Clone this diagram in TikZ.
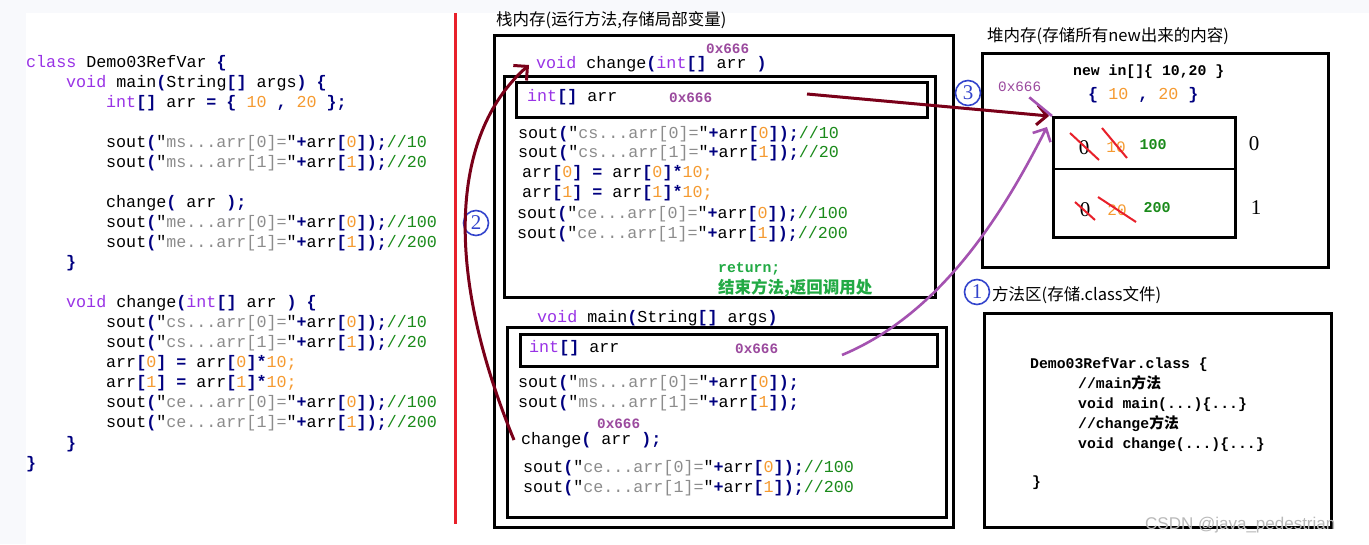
\documentclass[tikz,border=0pt]{standalone}
\usepackage{fontspec}
\setmainfont{Liberation Serif}
\setmonofont{Liberation Mono}
\setsansfont{Liberation Sans}
\newfontfamily\cjk{Noto Sans CJK SC}
\usetikzlibrary{arrows.meta}
\definecolor{kw}{HTML}{9933E6}
\definecolor{nvy}{HTML}{000080}
\definecolor{org}{HTML}{F59A30}
\definecolor{gry}{HTML}{8C8C8C}
\definecolor{grn}{HTML}{1A8A1A}
\definecolor{addrc}{HTML}{9B4A9E}
\definecolor{darkred}{HTML}{7A0019}
\definecolor{parr}{HTML}{A452B0}
\definecolor{lgreen}{HTML}{22AA44}
\definecolor{cblue}{HTML}{3344CC}
\definecolor{redl}{HTML}{E8202A}
\definecolor{bgc}{HTML}{F8F9FC}
\newcommand{\kwd}[1]{\textcolor{kw}{#1}}
\newcommand{\nvy}[1]{\textcolor{nvy}{\bfseries #1}}
\newcommand{\cnum}[1]{\textcolor{org}{#1}}
\newcommand{\cstr}[1]{\textcolor{gry}{#1}}
\newcommand{\cmt}[1]{\textcolor{grn}{#1}}
\newcommand{\soutln}[3]{sout\nvy{(}"\cstr{#1...arr[#2]=}"\nvy{+}arr\nvy{[}\cnum{#2}\nvy{]);}\cmt{#3}}
\newcommand{\arrln}[1]{arr\nvy{[}\cnum{#1}\nvy{]} \nvy{=} arr\nvy{[}\cnum{#1}\nvy{]*}\cnum{10;}}
\tikzset{
  code/.style={anchor=base west, inner sep=0pt, font=\ttfamily\fontsize{16.7}{20}\selectfont},
  bcode/.style={anchor=base west, inner sep=0pt, font=\ttfamily\bfseries\fontsize{14.8}{18}\selectfont},
  addr/.style={anchor=base west, inner sep=0pt, text=addrc, font=\ttfamily\bfseries\fontsize{14.3}{16}\selectfont},
  cjkt/.style={anchor=base west, inner sep=0pt, font=\cjk\fontsize{16.5}{18}\selectfont},
  frame/.style={draw=black, line width=3pt},
  circ/.style={circle, draw=cblue, line width=1.6pt, text=cblue, minimum size=25pt, inner sep=0pt, font=\rmfamily\fontsize{21}{21}\selectfont},
  darr/.style={draw=darkred, line width=3pt, -{Straight Barb[length=10pt,width=20pt]}},
  parrow/.style={draw=parr, line width=2.6pt, -{Straight Barb[length=10pt,width=20pt]}},
  cross/.style={draw=redl, line width=2pt},
  digit/.style={inner sep=0pt, font=\rmfamily\fontsize{21}{21}\selectfont},
}
\begin{document}
\begin{tikzpicture}[x=1pt,y=-1pt]
\useasboundingbox (0,0) rectangle (1369,544);
\fill[bgc] (0,0) rectangle (1369,544);
\fill[white] (26,13) rectangle (1369,544);
% left code
\node[code] (c1) at (26,67) {\kwd{class} Demo03RefVar \nvy{\{}};
\node[code] (c2) at (66,87) {\kwd{void} main\nvy{(}String\nvy{[]} args\nvy{)} \nvy{\{}};
\node[code] (c3) at (106,107) {\kwd{int}\nvy{[]} arr \nvy{=} \nvy{\{} \cnum{10} \nvy{,} \cnum{20} \nvy{\};}};
\node[code] (c4) at (106,147) {\soutln{ms}{0}{//10}};
\node[code] (c5) at (106,167) {\soutln{ms}{1}{//20}};
\node[code] (c6) at (106,207) {change\nvy{(} arr \nvy{);}};
\node[code] (c7) at (106,227) {\soutln{me}{0}{//100}};
\node[code] (c8) at (106,247) {\soutln{me}{1}{//200}};
\node[code] (c9) at (66,267) {\nvy{\}}};
\node[code] (c10) at (66,307) {\kwd{void} change\nvy{(}\kwd{int}\nvy{[]} arr \nvy{)} \nvy{\{}};
\node[code] (c11) at (106,327) {\soutln{cs}{0}{//10}};
\node[code] (c12) at (106,347) {\soutln{cs}{1}{//20}};
\node[code] (c13) at (106,367) {\arrln{0}};
\node[code] (c14) at (106,387) {\arrln{1}};
\node[code] (c15) at (106,407) {\soutln{ce}{0}{//100}};
\node[code] (c16) at (106,427) {\soutln{ce}{1}{//200}};
\node[code] (c17) at (66,448) {\nvy{\}}};
\node[code] (c18) at (26,468) {\nvy{\}}};
\draw[redl, line width=3pt] (455,13) -- (455,524);
% stack
\node[cjkt] (stt) at (496,25) {栈内存(运行方法,存储局部变量)};
\draw[frame] (494,35) rectangle (953,527);
\node[addr] (a1) at (706,53) {0x666};
\node[code] (chg) at (536,68) {\kwd{void} change\nvy{(}\kwd{int}\nvy{[]} arr \nvy{)}};
\draw[frame] (504,76) rectangle (935,297);
\draw[frame] (516,82) rectangle (927,117);
\node[code] (s1) at (527,101) {\kwd{int}\nvy{[]} arr};
\node[addr] (a2) at (669,102) {0x666};
\node[code] (s2) at (518,138) {\soutln{cs}{0}{//10}};
\node[code] (s3) at (518,157) {\soutln{cs}{1}{//20}};
\node[code] (s4) at (522,177) {\arrln{0}};
\node[code] (s5) at (522,197) {\arrln{1}};
\node[code] (s6) at (517,218) {\soutln{ce}{0}{//100}};
\node[code] (s7) at (517,238) {\soutln{ce}{1}{//200}};
\node[bcode, text=lgreen] (ret) at (718,272) {return;};
\node[cjkt, text=lgreen, font=\cjk\bfseries\fontsize{16.5}{18}\selectfont] (retc) at (718,293) {结束方法,返回调用处};
\node[code] (mn) at (537,322) {\kwd{void} main\nvy{(}String\nvy{[]} args\nvy{)}};
\draw[frame] (507,327) rectangle (946,517);
\draw[frame] (520,334) rectangle (937,366);
\node[code] (m1) at (529,352) {\kwd{int}\nvy{[]} arr};
\node[addr] (a3) at (735,353) {0x666};
\node[code] (m2) at (518,387) {\soutln{ms}{0}{}};
\node[code] (m3) at (518,407) {\soutln{ms}{1}{}};
\node[addr] (a4) at (597,428) {0x666};
\node[code] (call) at (521,444) {change\nvy{(} arr \nvy{);}};
\node[code] (m4) at (523,472) {\soutln{ce}{0}{//100}};
\node[code] (m5) at (523,492) {\soutln{ce}{1}{//200}};
% heap
\node[cjkt] (ht) at (987,41) {堆内存(存储所有new出来的内容)};
\draw[frame] (982,53) rectangle (1328,267);
\node[bcode] (h1) at (1073,75) {new in[]\{ 10,20 \}};
\node[code] (h2) at (1088,99) {\nvy{\{} \cnum{10} \nvy{,} \cnum{20} \nvy{\}}};
\node[addr, font=\ttfamily\fontsize{14.3}{16}\selectfont] (a5) at (998,91) {0x666};
\node[draw=black, line width=2.6pt, minimum width=182pt, minimum height=120pt, anchor=north west, inner sep=0pt] (cells) at (1052,116) {};
\draw[black, line width=2.6pt] (1052,169) -- (1234,169);
\node[digit] (d00) at (1084,148) {0};
\node[inner sep=0pt, text=org, font=\ttfamily\fontsize{16}{16}\selectfont] (d01) at (1116,147) {10};
\node[inner sep=0pt, text=grn, font=\ttfamily\bfseries\fontsize{15}{15}\selectfont] (d02) at (1153,145) {100};
\node[digit] (d10) at (1085,210) {0};
\node[inner sep=0pt, text=org, font=\ttfamily\fontsize{16}{16}\selectfont] (d11) at (1117,210) {20};
\node[inner sep=0pt, text=grn, font=\ttfamily\bfseries\fontsize{15}{15}\selectfont] (d12) at (1157,208) {200};
\draw[cross] (1070,133) -- (1099,160);
\draw[cross] (1102,128) -- (1127,158);
\draw[cross] (1075,202) -- (1095,220);
\draw[cross] (1098,197) -- (1136,222);
\node[digit] (i0) at (1254,144) {0};
\node[digit] (i1) at (1256,208) {1};
% method area
\node[circ] (n1) at (977,292) {1};
\node[cjkt] (mt) at (992,300) {方法区(存储.class文件)};
\draw[frame] (984,313) rectangle (1331,527);
\node[bcode] (t1) at (1030,368) {Demo03RefVar.class \{};
\node[bcode] (t2) at (1078,388) {//main{\cjk 方法}};
\node[bcode] (t3) at (1078,408) {void main(...)\{...\}};
\node[bcode] (t4) at (1078,428) {//change{\cjk 方法}};
\node[bcode] (t5) at (1078,448) {void change(...)\{...\}};
\node[bcode] (t6) at (1032,486) {\}};
% circled numbers
\node[circ] (n2) at (476,223) {2};
\node[circ] (n3) at (968,93) {3};
% arrows
\coordinate (p3s) at (807,94);
\coordinate (p3e) at (1049,116);
\draw[darr] (p3s) -- (p3e);
\coordinate (p2s) at (514,440);
\coordinate (p2e) at (529,65);
\draw[darr] (p2s) .. controls (440,260) and (455,130) .. (p2e);
\coordinate (p1s) at (842,355);
\coordinate (p1e) at (1047,127);
\draw[parrow] (p1s) .. controls (950,310) and (1012,195) .. (p1e);
\draw[parr, line width=2.6pt] (a5.south east) ++(-12,6) -- (cells.north west);
\node[anchor=west, inner sep=0pt, text=gray!55, font=\sffamily\fontsize{17}{17}\selectfont] (wm) at (1145,525) {CSDN @java\_pedestrian};
\end{tikzpicture}
\end{document}
